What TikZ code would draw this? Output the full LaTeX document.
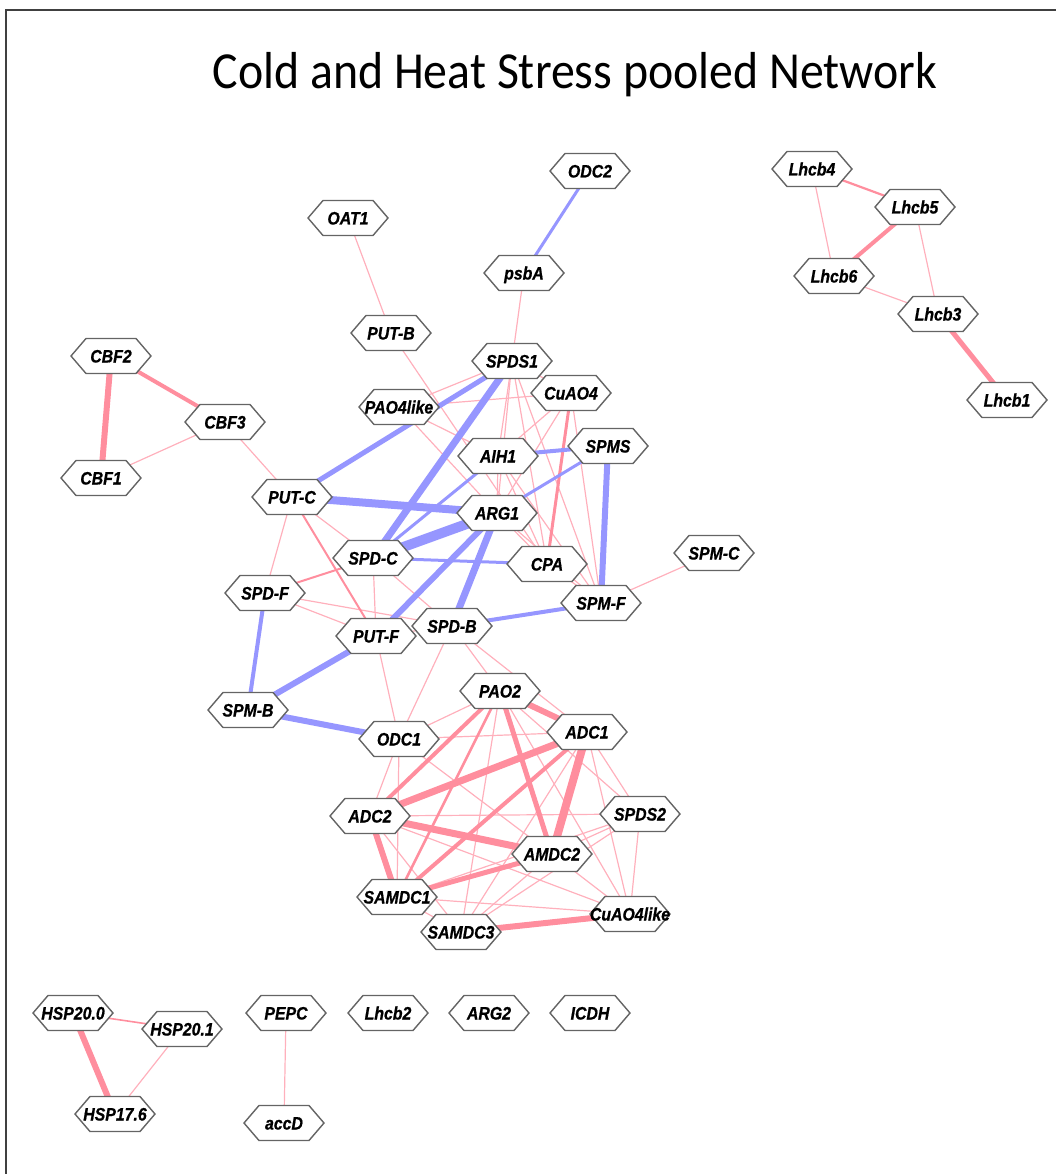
\documentclass[tikz,border=0pt]{standalone}
\usepackage{fontspec}
\newfontfamily\labfont{Liberation Sans}[FakeStretch=0.88,FakeBold=0.8]
\newfontfamily\titlefont{Carlito}[FakeStretch=0.92]
\definecolor{pkL}{RGB}{255,176,188}
\definecolor{pkD}{RGB}{255,142,158}
\definecolor{blu}{RGB}{150,150,255}
\definecolor{hexgray}{RGB}{100,100,100}
\pgfdeclarelayer{bg}
\pgfsetlayers{bg,main}
\tikzset{
  lbl/.style={inner sep=0pt, text height=13pt, text depth=0pt,
    font=\labfont\bfseries\itshape\fontsize{18}{18}\selectfont},
  hexline/.style={draw=hexgray, fill=white, line width=1.4pt},
  th/.style={draw=pkL, line width=1.2pt},
  pk/.style={draw=pkD, line width=#1},
  bl/.style={draw=blu, line width=#1},
}
\newcommand{\gn}[4]{%
  \filldraw[hexline,shift={(#2,#3)}] (-40,0) -- (-25,-17.5) -- (25,-17.5) -- (40,0) -- (25,17.5) -- (-25,17.5) -- cycle;
  \node[lbl] (#1) at (#2,#3) {#4};}
\newcommand{\ed}[3]{\draw[#1] (#2.center) -- (#3.center);}
\begin{document}
\begin{tikzpicture}[x=1pt,y=-1pt]
\useasboundingbox (0,0) rectangle (1056,1174);
\draw[line width=2pt, black!75] (6,1174) -- (6,10) -- (1056,10);
\node[anchor=base, inner sep=0pt, font=\titlefont\fontsize{52}{52}\selectfont] (title) at (575,89) {Cold and Heat Stress pooled Network};
% nodes
\gn{ODCb}{590}{171}{ODC2}
\gn{OAT}{348}{218}{OAT1}
\gn{psbA}{524}{273}{psbA}
\gn{PUTB}{391}{333}{PUT-B}
\gn{Lf}{812}{169}{Lhcb4}
\gn{Lv}{915}{207}{Lhcb5}
\gn{Ls}{834}{276}{Lhcb6}
\gn{Lt}{938}{314}{Lhcb3}
\gn{Lo}{1007}{400}{Lhcb1}
\gn{CBFb}{111}{356}{CBF2}
\gn{CBFc}{225}{422}{CBF3}
\gn{CBFa}{101}{478}{CBF1}
\gn{SPDSa}{512}{361}{SPDS1}
\gn{CuAO}{571}{393}{CuAO4}
\gn{PAOf}{399}{407}{PAO4like}
\gn{AIH}{498}{456}{AIH1}
\gn{SPMS}{608}{446}{SPMS}
\gn{PUTC}{292}{497}{PUT-C}
\gn{ARGa}{497}{513}{ARG1}
\gn{SPDC}{373}{558}{SPD-C}
\gn{CPA}{547}{564}{CPA}
\gn{SPMC}{714}{553}{SPM-C}
\gn{SPDF}{265}{593}{SPD-F}
\gn{SPMF}{601}{603}{SPM-F}
\gn{PUTF}{376}{636}{PUT-F}
\gn{SPDB}{452}{626}{SPD-B}
\gn{PAOb}{500}{691}{PAO2}
\gn{SPMB}{248}{710}{SPM-B}
\gn{ODCa}{399}{739}{ODC1}
\gn{ADCa}{587}{732}{ADC1}
\gn{ADCb}{370}{816}{ADC2}
\gn{SPDSb}{640}{814}{SPDS2}
\gn{AMDC}{552}{854}{AMDC2}
\gn{SAMa}{397}{897}{SAMDC1}
\gn{SAMc}{461}{932}{SAMDC3}
\gn{CuAOl}{630}{914}{CuAO4like}
\gn{HSPa}{73}{1013}{HSP20.0}
\gn{HSPb}{182}{1029}{HSP20.1}
\gn{HSPc}{115}{1114}{HSP17.6}
\gn{PEPC}{286}{1013}{PEPC}
\gn{Ltw}{388}{1013}{Lhcb2}
\gn{ARGb}{489}{1013}{ARG2}
\gn{ICDH}{590}{1013}{ICDH}
\gn{accD}{284}{1123}{accD}
\begin{pgfonlayer}{bg}
% thin pink
\ed{th}{CBFa}{CBFc}
\ed{th}{CBFc}{PUTC}
\ed{th}{OAT}{PUTB}
\ed{th}{psbA}{SPDSa}
\ed{th}{Lf}{Ls}
\ed{th}{Lv}{Lt}
\ed{th}{Ls}{Lt}
\ed{th}{HSPb}{HSPc}
\ed{th}{PEPC}{accD}
\ed{th}{SPMC}{SPMF}
\ed{th}{PAOf}{SPDSa}
\ed{th}{PAOf}{CuAO}
\ed{th}{PAOf}{AIH}
\ed{th}{PAOf}{ARGa}
\ed{th}{PUTB}{CPA}
\ed{th}{SPDSa}{CuAO}
\ed{th}{SPDSa}{AIH}
\ed{th}{SPDSa}{ARGa}
\ed{th}{SPDSa}{CPA}
\ed{th}{SPDSa}{SPMF}
\ed{th}{CuAO}{AIH}
\ed{th}{CuAO}{ARGa}
\ed{th}{CuAO}{SPMF}
\ed{th}{AIH}{ARGa}
\ed{th}{AIH}{CPA}
\ed{th}{AIH}{SPMF}
\ed{th}{ARGa}{CPA}
\ed{th}{ARGa}{SPMF}
\ed{th}{CPA}{SPMF}
\ed{th}{PUTC}{SPDC}
\ed{th}{PUTC}{SPDF}
\ed{th}{SPDC}{PUTF}
\ed{th}{SPDC}{SPDB}
\ed{th}{SPDF}{SPDB}
\ed{th}{SPDF}{PUTF}
\ed{th}{PUTF}{SPDB}
\ed{th}{PUTF}{ODCa}
\ed{th}{SPDB}{ODCa}
\ed{th}{SPDB}{PAOb}
\ed{th}{SPDB}{ADCa}
\ed{th}{ODCa}{PAOb}
\ed{th}{ODCa}{ADCa}
\ed{th}{ODCa}{ADCb}
\ed{th}{ODCa}{SAMa}
\ed{th}{ODCa}{AMDC}
\ed{th}{PAOb}{SAMc}
\ed{th}{PAOb}{SPDSb}
\ed{th}{PAOb}{CuAOl}
\ed{th}{ADCa}{SPDSb}
\ed{th}{ADCa}{CuAOl}
\ed{th}{ADCa}{SAMc}
\ed{th}{ADCb}{SPDSb}
\ed{th}{ADCb}{CuAOl}
\ed{th}{ADCb}{SAMc}
\ed{th}{AMDC}{SPDSb}
\ed{th}{AMDC}{CuAOl}
\ed{th}{AMDC}{SAMc}
\ed{th}{SAMa}{SAMc}
\ed{th}{SAMa}{CuAOl}
\ed{th}{SAMa}{SPDSb}
\ed{th}{SAMc}{SPDSb}
\ed{th}{SPDSb}{CuAOl}
% pink, heavier
\ed{pk=1.6pt}{HSPa}{HSPb}
\ed{pk=2.2pt}{Lf}{Lv}
\ed{pk=2pt}{PUTC}{PUTF}
\ed{pk=2pt}{SPDC}{SPDF}
\ed{pk=3pt}{CuAO}{CPA}
\ed{pk=2.5pt}{PAOb}{SAMa}
\ed{pk=4pt}{CBFb}{CBFc}
\ed{pk=4pt}{Lv}{Ls}
\ed{pk=5pt}{Lt}{Lo}
\ed{pk=6pt}{CBFb}{CBFa}
\ed{pk=6pt}{HSPa}{HSPc}
\ed{pk=4pt}{PAOb}{ADCb}
\ed{pk=5pt}{PAOb}{AMDC}
\ed{pk=6pt}{PAOb}{ADCa}
\ed{pk=4pt}{ADCa}{SAMa}
\ed{pk=7pt}{ADCa}{ADCb}
\ed{pk=8pt}{ADCa}{AMDC}
\ed{pk=7pt}{ADCb}{AMDC}
\ed{pk=6pt}{ADCb}{SAMa}
\ed{pk=5pt}{AMDC}{SAMa}
\ed{pk=6pt}{SAMc}{CuAOl}
% blue
\ed{bl=3pt}{ODCb}{psbA}
\ed{bl=3pt}{AIH}{SPDC}
\ed{bl=3pt}{SPMS}{ARGa}
\ed{bl=3pt}{SPDC}{CPA}
\ed{bl=4pt}{AIH}{SPMS}
\ed{bl=4pt}{SPDB}{SPMF}
\ed{bl=4pt}{SPDF}{SPMB}
\ed{bl=5pt}{SPDSa}{PUTC}
\ed{bl=6pt}{SPMS}{SPMF}
\ed{bl=6pt}{ARGa}{PUTF}
\ed{bl=6pt}{PUTF}{SPMB}
\ed{bl=6pt}{SPMB}{ODCa}
\ed{bl=7pt}{ARGa}{SPDB}
\ed{bl=7pt}{SPDSa}{SPDC}
\ed{bl=8pt}{PUTC}{ARGa}
\ed{bl=10pt}{SPDC}{ARGa}
\end{pgfonlayer}
\end{tikzpicture}
\end{document}
